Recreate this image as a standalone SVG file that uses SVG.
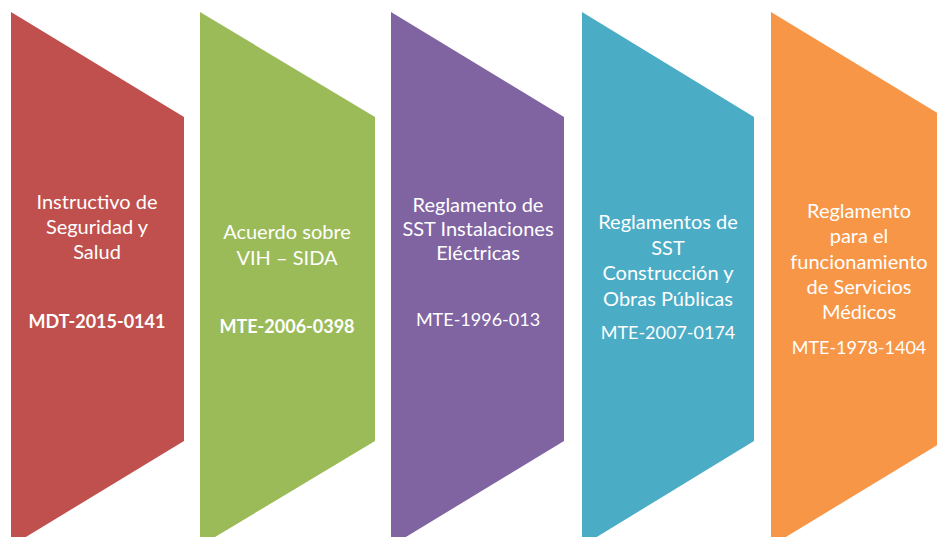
<svg xmlns="http://www.w3.org/2000/svg" width="937" height="537" viewBox="0 0 937 537">
<style>
.t{font-family:Lato,"Liberation Sans",sans-serif;font-size:20px;fill:#ffffff;text-anchor:middle}
.c{font-family:Lato,"Liberation Sans",sans-serif;font-size:18px;fill:#ffffff;text-anchor:middle}
.b{font-weight:bold}
</style>
<rect width="937" height="537" fill="#ffffff"/>
<g id="n1">
<polygon points="11,12 184,117 184,441 11,546" fill="#C0504D"/>
<text class="t" x="97" y="209">Instructivo de</text>
<text class="t" x="97" y="234">Seguridad y</text>
<text class="t" x="97" y="259">Salud</text>
<text class="c b" x="97" y="328">MDT-2015-0141</text>
</g>
<g id="n2">
<polygon points="200,12 375,117 375,441 200,546" fill="#9BBB59"/>
<text class="t" x="287" y="239">Acuerdo sobre</text>
<text class="t" x="287" y="265">VIH – SIDA</text>
<text class="c b" x="287" y="333">MTE-2006-0398</text>
</g>
<g id="n3">
<polygon points="391,12 564,117 564,441 391,546" fill="#8064A2"/>
<text class="t" x="478" y="212">Reglamento de</text>
<text class="t" x="478" y="236">SST Instalaciones</text>
<text class="t" x="478" y="260">Eléctricas</text>
<text class="c" x="478" y="326">MTE-1996-013</text>
</g>
<g id="n4">
<polygon points="582,12 754,117 754,441 582,546" fill="#4BACC6"/>
<text class="t" x="668" y="229">Reglamentos de</text>
<text class="t" x="668" y="255">SST</text>
<text class="t" x="668" y="280">Construcción y</text>
<text class="t" x="668" y="306">Obras Públicas</text>
<text class="c" x="668" y="339">MTE-2007-0174</text>
</g>
<g id="n5">
<polygon points="771,12 944,117 944,441 771,546" fill="#F79646"/>
<text class="t" x="859" y="218">Reglamento</text>
<text class="t" x="859" y="243">para el</text>
<text class="t" x="859" y="269">funcionamiento</text>
<text class="t" x="859" y="294">de Servicios</text>
<text class="t" x="859" y="319">Médicos</text>
<text class="c" x="859" y="354">MTE-1978-1404</text>
</g>
<g id="connectors"></g>
</svg>
